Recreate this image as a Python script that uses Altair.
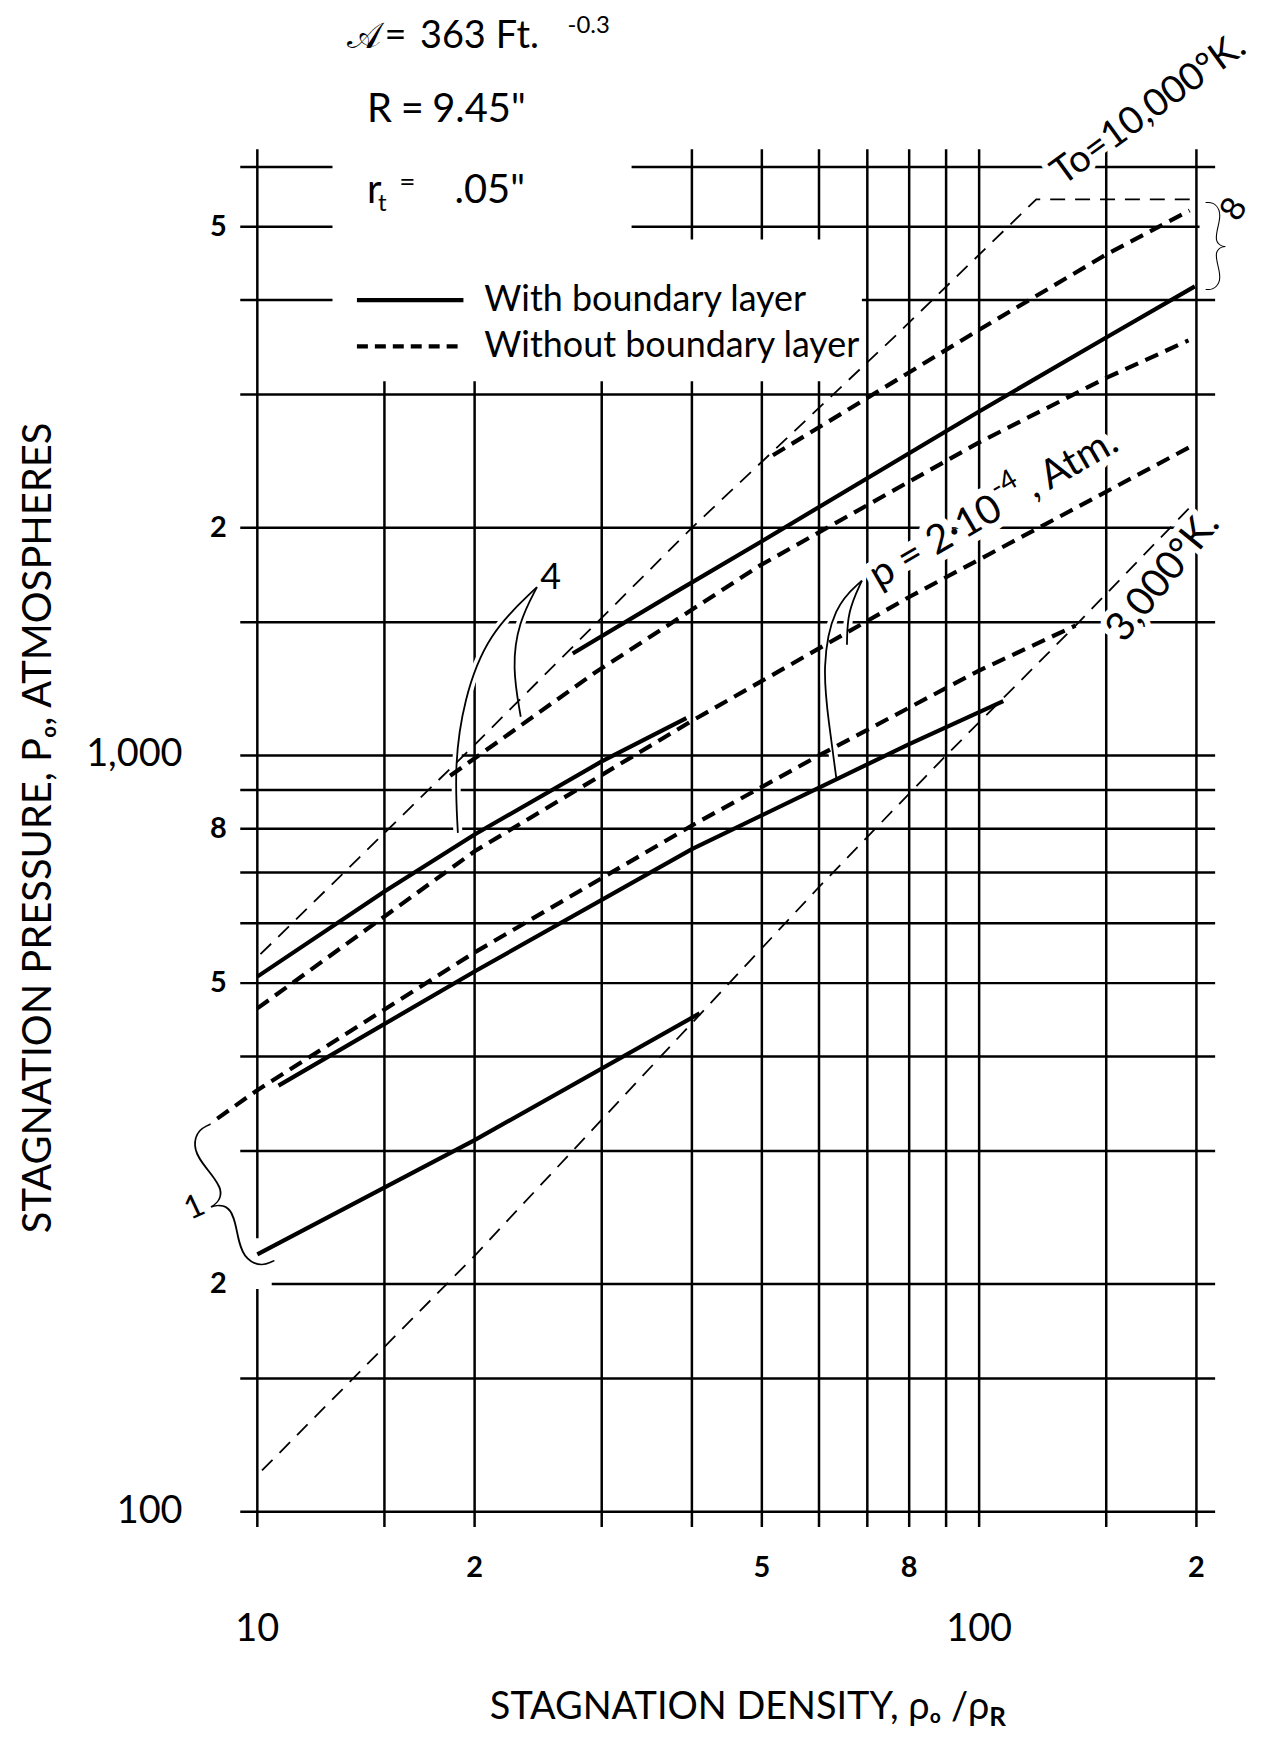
import altair as alt
import pandas as pd

FONT = "Lato, 'DejaVu Sans', sans-serif"

# ---------------- grid / tick values ----------------
x_grid = [10, 15, 20, 30, 40, 50, 60, 70, 80, 90, 100, 150, 200]
y_grid = [100, 150, 200, 300, 400, 500, 600, 700, 800, 900, 1000, 1500, 2000, 3000, 4000, 5000, 6000]

x_minor_vals = [20, 50, 80, 200]
x_minor_text = ["2", "5", "8", "2"]
x_major_vals = [10, 100]
x_major_text = ["10", "100"]
y_minor_vals = [200, 500, 800, 2000, 5000]
y_minor_text = ["2", "5", "8", "2", "5"]
y_major_vals = [100, 1000]
y_major_text = ["100", "1,000"]

# ---------------- curves: density rho0/rhoR vs pressure p0 (atm) ----------------
t10000_rho = [10.1, 20, 40, 76.8, 120, 197]
t10000_p = [546, 1033, 2000, 3598, 5437, 5437]
t3000_rho = [10.15, 20, 60, 90, 136, 197]
t3000_p = [113.4, 218, 670, 1000, 1485, 2140]

p8_bl_rho = [27.35, 37.9, 50, 100, 150, 199]
p8_bl_p = [1364, 1643, 1920, 2850, 3570, 4171]
p8_nobl_rho = [51.8, 70, 100, 150, 195.7]
p8_nobl_p = [2494, 2970, 3655, 4596, 5254]

p4_bl_rho = [10, 15, 20, 30, 39.3]
p4_bl_p = [510, 661, 786, 982, 1120]
p4_nobl_rho = [18.5, 29.2, 49.6, 100, 150, 195]
p4_nobl_p = [940, 1282, 1781, 2594, 3156, 3538]

p2_bl_rho = [10.7, 20, 40, 80, 108]
p2_bl_p = [366, 518, 752, 1035, 1180]
p2_nobl_rho = [10, 20, 40, 80, 199]
p2_nobl_p = [463, 747, 1111, 1620, 2578]

p1_bl_rho = [10, 20, 41]
p1_bl_p = [219, 310, 456]
p1_nobl_rho = [8.8, 10, 20, 40, 60, 100, 136]
p1_nobl_p = [331, 361, 549, 808, 1000, 1295, 1485]

series = [
    ("T0=10000K", "thin", t10000_rho, t10000_p),
    ("T0=3000K", "thin", t3000_rho, t3000_p),
    ("p8 with BL", "solid", p8_bl_rho, p8_bl_p),
    ("p8 without BL", "heavy", p8_nobl_rho, p8_nobl_p),
    ("p4 with BL", "solid", p4_bl_rho, p4_bl_p),
    ("p4 without BL", "heavy", p4_nobl_rho, p4_nobl_p),
    ("p2 with BL", "solid", p2_bl_rho, p2_bl_p),
    ("p2 without BL", "heavy", p2_nobl_rho, p2_nobl_p),
    ("p1 with BL", "solid", p1_bl_rho, p1_bl_p),
    ("p1 without BL", "heavy", p1_nobl_rho, p1_nobl_p),
]

rows = []
for name, style, xs_, ys_ in series:
    for i, (a, b) in enumerate(zip(xs_, ys_)):
        rows.append({"series": name, "style": style, "i": i, "x": a, "y": b})
curves = pd.DataFrame(rows)

# ---------------- scales ----------------
XS = alt.Scale(type="log", domain=[9.47, 212.3], nice=False)
YS = alt.Scale(type="log", domain=[95.5, 6330], nice=False)


def X(f="x"):
    return alt.X(f + ":Q", scale=XS, axis=None)


def Y(f="y"):
    return alt.Y(f + ":Q", scale=YS, axis=None)


layers_grid = []
layers_halo = []
layers_lines = []
layers_text = []
layers_lead = []

# grid
layers_grid.append(
    alt.Chart(pd.DataFrame({"x": x_grid})).mark_rule(color="black", strokeWidth=2.5).encode(x=X())
)
layers_grid.append(
    alt.Chart(pd.DataFrame({"y": y_grid})).mark_rule(color="black", strokeWidth=2.5).encode(y=Y())
)

# blank areas of the hand-drawn grid (behind legend / labels)
gaps = pd.DataFrame({
    "x": [12.71, 33.0, 9.3, 202],
    "x2": [33.0, 68.8, 10.47, 216],
    "y": [3125, 3125, 197, 4900],
    "y2": [7000, 4810, 230, 5100],
})
layers_grid.append(
    alt.Chart(gaps).mark_rect(color="white").encode(x=X(), x2="x2:Q", y=Y(), y2="y2:Q")
)

# curves
sel = curves[curves["style"] == "solid"]
layers_lines.append(
    alt.Chart(sel).mark_line(color="black", strokeWidth=4.2)
    .encode(x=X(), y=Y(), detail="series:N", order="i:Q")
)
sel = curves[curves["style"] == "heavy"]
layers_lines.append(
    alt.Chart(sel).mark_line(color="black", strokeWidth=4.2, strokeDash=[14, 8])
    .encode(x=X(), y=Y(), detail="series:N", order="i:Q")
)
sel = curves[curves["style"] == "thin"]
layers_lines.append(
    alt.Chart(sel).mark_line(color="black", strokeWidth=1.8, strokeDash=[15, 10])
    .encode(x=X(), y=Y(), detail="series:N", order="i:Q")
)

# legend samples
leg = pd.DataFrame({"x": [13.74], "x2": [19.3], "y": [4000]})
layers_lines.append(
    alt.Chart(leg).mark_rule(color="black", strokeWidth=4.2).encode(x=X(), x2="x2:Q", y=Y())
)
leg2 = pd.DataFrame({"x": [13.74], "x2": [19.3], "y": [3474]})
layers_lines.append(
    alt.Chart(leg2).mark_rule(color="black", strokeWidth=4.2, strokeDash=[11, 7]).encode(x=X(), x2="x2:Q", y=Y())
)


def add_text(xv, yv, t, size, weight=400, align="center", baseline="middle",
             angle=0, dx=0, dy=0, halo=0, font=FONT):
    df = pd.DataFrame({"x": xv, "y": yv, "t": t})
    kw = dict(font=font, fontSize=size, fontWeight=weight, align=align,
              baseline=baseline, angle=angle, dx=dx, dy=dy)
    enc = dict(x=X(), y=Y(), text="t:N")
    if halo:
        layers_halo.append(
            alt.Chart(df).mark_text(color="white", stroke="white", strokeWidth=halo,
                                    strokeJoin="round", **kw).encode(**enc)
        )
    layers_text.append(alt.Chart(df).mark_text(color="black", **kw).encode(**enc))


# tick labels
add_text([10] * len(y_minor_vals), y_minor_vals, y_minor_text, 29, weight=700, dx=-39)
add_text([10] * len(y_major_vals), y_major_vals, y_major_text, 38, align="right", dx=-75)
add_text(x_minor_vals, [100] * len(x_minor_vals), x_minor_text, 29, weight=700, dy=56)
add_text(x_major_vals, [100] * len(x_major_vals), x_major_text, 38, dy=119)

# axis titles
add_text([4.99], [802], ["STAGNATION PRESSURE, Pₒ, ATMOSPHERES"], 40, angle=270)
add_text([103.3], [55.0], ["STAGNATION DENSITY, ρₒ /ρ"], 38, align="right")
add_text([103.3], [55.0], ["R"], 26, align="left", dy=10, weight=700)

# parameters (top left)
add_text([13.31], [8900], ["𝒜"], 36, align="left")
add_text([15.0], [8900], ["="], 38, align="left")
add_text([16.8], [8900], ["363"], 38, align="left")
add_text([21.4], [8900], ["Ft."], 38, align="left")
add_text([26.9], [9204], ["-0.3"], 24, align="left")
add_text([14.19], [7139], ["R"], 40, align="left")
add_text([15.80], [7139], ["="], 40, align="left")
add_text([17.47], [7139], ["9.45\""], 40, align="left")
add_text([14.19], [5580], ["r"], 40, align="left")
add_text([14.70], [5362], ["t"], 24, align="left")
add_text([15.73], [5715], ["="], 28, align="left")
add_text([18.76], [5580], [".05\""], 40, align="left")

# legend texts
add_text([20.63, 20.63], [4000, 3474], ["With boundary layer", "Without boundary layer"], 36, align="left")

# curve annotations
add_text([171.9], [7133], ["To=10,000°K."], 38, angle=324, halo=12)
add_text([71.2], [1713], ["p = 2·10"], 40, align="left", angle=330, halo=16)
add_text([71.2], [1713], ["-4"], 28, align="left", angle=330, dx=148, dy=-16, halo=14)
add_text([71.2], [1713], [", Atm."], 40, align="left", angle=330, dx=180, halo=16)
add_text([179.9], [1723], ["3,000°K."], 40, angle=309, halo=12)
add_text([25.5], [1715], ["4"], 36, halo=10)
add_text([225.9], [5271], ["8"], 34, angle=300)
add_text([8.18], [252.7], ["1"], 32, angle=335)
add_text([212.7], [4690], ["}"], 100, weight=100)
add_text([9.09], [257], ["{"], 175, weight=100, angle=335)

# leader curves
leaders = {
    "4a": ([24.4, 20.85, 19.3, 18.75, 18.96], [1669, 1449, 1183, 967, 790]),
    "4b": ([24.4, 23.0, 22.54, 23.17], [1669, 1499, 1309, 1125]),
    "pa": ([68.8, 62.8, 60.6, 61.9, 63.4], [1703, 1576, 1309, 1106, 934]),
    "pb": ([68.8, 65.7, 65.6], [1703, 1549, 1401]),
}
lrows = []
for k, (xs_, ys_) in leaders.items():
    for i, (a, b) in enumerate(zip(xs_, ys_)):
        lrows.append({"id": k, "i": i, "x": a, "y": b})
ldf = pd.DataFrame(lrows)
layers_halo.append(
    alt.Chart(ldf).mark_line(color="white", strokeWidth=9, interpolate="basis")
    .encode(x=X(), y=Y(), detail="id:N", order="i:Q")
)
layers_lead.append(
    alt.Chart(ldf).mark_line(color="black", strokeWidth=1.8, interpolate="basis")
    .encode(x=X(), y=Y(), detail="id:N", order="i:Q")
)

chart = alt.layer(*(layers_grid + layers_halo + layers_lines + layers_text + layers_lead)).properties(
    width=978,
    height=1382,
    padding={"left": 233, "top": 139, "right": 40, "bottom": 210},
    autosize=alt.AutoSizeParams(type="none"),
    background="white",
).configure_view(strokeWidth=0)

chart.save("out.html", embed_options={"renderer": "svg", "actions": False})
